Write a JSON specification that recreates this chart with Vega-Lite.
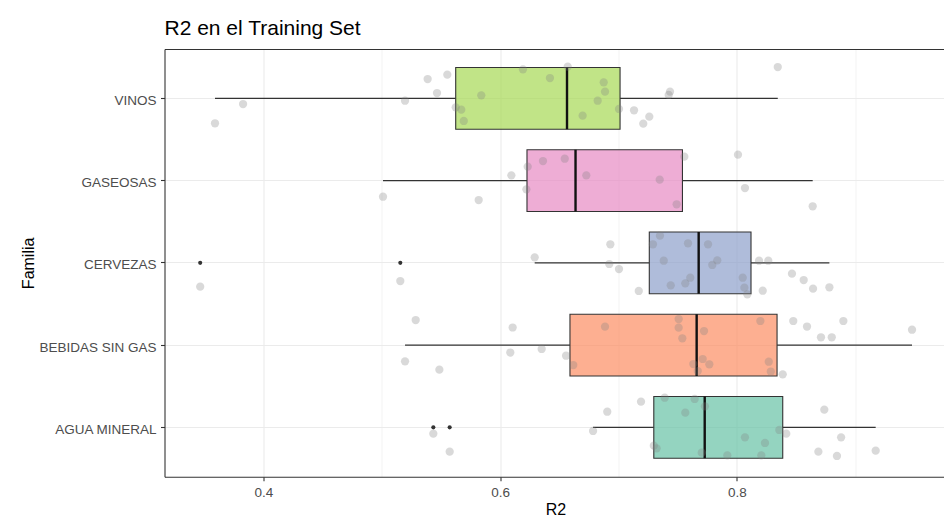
{
  "$schema": "https://vega.github.io/schema/vega-lite/v6.json",
  "width": 779.5,
  "height": 427.7,
  "autosize": {"type": "none"},
  "padding": {"left": 164.5, "top": 49, "right": 0, "bottom": 41.3},
  "background": "white",
  "title": {
    "text": "R2 en el Training Set",
    "anchor": "start",
    "frame": "group",
    "font": "Liberation Sans",
    "fontSize": 21,
    "fontWeight": "normal",
    "color": "#000000",
    "baseline": "alphabetic",
    "offset": 12,
    "dy": 19
  },
  "config": {
    "font": "Liberation Sans",
    "view": {"stroke": null},
    "axis": {
      "domainColor": "#333333",
      "domainWidth": 1.1,
      "tickColor": "#333333",
      "tickSize": 4,
      "tickWidth": 1.1,
      "labelFont": "Liberation Sans",
      "labelFontSize": 13.5,
      "labelColor": "#4d4d4d",
      "titleFont": "Liberation Sans",
      "titleFontSize": 16,
      "titleFontWeight": "normal",
      "titleColor": "#000000",
      "gridColor": "#ebebeb"
    }
  },
  "datasets": {
    "resumen": [
      {"Familia": "VINOS", "lo": 0.3592, "q1": 0.5625, "med": 0.6565, "q3": 0.7013, "hi": 0.8345},
      {"Familia": "GASEOSAS", "lo": 0.5011, "q1": 0.6227, "med": 0.6637, "q3": 0.754, "hi": 0.864},
      {"Familia": "CERVEZAS", "lo": 0.6292, "q1": 0.726, "med": 0.7677, "q3": 0.8119, "hi": 0.8781},
      {"Familia": "BEBIDAS SIN GAS", "lo": 0.5197, "q1": 0.659, "med": 0.766, "q3": 0.8339, "hi": 0.9479},
      {"Familia": "AGUA MINERAL", "lo": 0.6785, "q1": 0.7298, "med": 0.7728, "q3": 0.8387, "hi": 0.9172}
    ],
    "obs": [
      {"Familia": "VINOS", "R2": 0.3592, "jitter": 0.303},
      {"Familia": "VINOS", "R2": 0.3829, "jitter": 0.069},
      {"Familia": "VINOS", "R2": 0.5197, "jitter": 0.029},
      {"Familia": "VINOS", "R2": 0.5388, "jitter": -0.235},
      {"Familia": "VINOS", "R2": 0.5554, "jitter": -0.288},
      {"Familia": "VINOS", "R2": 0.5467, "jitter": -0.065},
      {"Familia": "VINOS", "R2": 0.5625, "jitter": 0.109},
      {"Familia": "VINOS", "R2": 0.5672, "jitter": 0.138},
      {"Familia": "VINOS", "R2": 0.5693, "jitter": 0.275},
      {"Familia": "VINOS", "R2": 0.5841, "jitter": -0.037},
      {"Familia": "VINOS", "R2": 0.6193, "jitter": -0.353},
      {"Familia": "VINOS", "R2": 0.6421, "jitter": -0.247},
      {"Familia": "VINOS", "R2": 0.6571, "jitter": -0.385},
      {"Familia": "VINOS", "R2": 0.6875, "jitter": -0.195},
      {"Familia": "VINOS", "R2": 0.6886, "jitter": -0.081},
      {"Familia": "VINOS", "R2": 0.6824, "jitter": 0.029},
      {"Familia": "VINOS", "R2": 0.6697, "jitter": 0.211},
      {"Familia": "VINOS", "R2": 0.7004, "jitter": 0.129},
      {"Familia": "VINOS", "R2": 0.7131, "jitter": 0.145},
      {"Familia": "VINOS", "R2": 0.726, "jitter": 0.223},
      {"Familia": "VINOS", "R2": 0.7209, "jitter": 0.308},
      {"Familia": "VINOS", "R2": 0.7435, "jitter": -0.081},
      {"Familia": "VINOS", "R2": 0.7424, "jitter": -0.041},
      {"Familia": "VINOS", "R2": 0.8345, "jitter": -0.381},
      {"Familia": "GASEOSAS", "R2": 0.5011, "jitter": 0.196},
      {"Familia": "GASEOSAS", "R2": 0.5819, "jitter": 0.236},
      {"Familia": "GASEOSAS", "R2": 0.6095, "jitter": -0.064},
      {"Familia": "GASEOSAS", "R2": 0.6233, "jitter": -0.169},
      {"Familia": "GASEOSAS", "R2": 0.6222, "jitter": 0.106},
      {"Familia": "GASEOSAS", "R2": 0.6362, "jitter": -0.238},
      {"Familia": "GASEOSAS", "R2": 0.6546, "jitter": -0.266},
      {"Familia": "GASEOSAS", "R2": 0.6728, "jitter": -0.064},
      {"Familia": "GASEOSAS", "R2": 0.7348, "jitter": -0.011},
      {"Familia": "GASEOSAS", "R2": 0.7491, "jitter": 0.288},
      {"Familia": "GASEOSAS", "R2": 0.7556, "jitter": -0.291},
      {"Familia": "GASEOSAS", "R2": 0.8009, "jitter": -0.315},
      {"Familia": "GASEOSAS", "R2": 0.8068, "jitter": 0.09},
      {"Familia": "GASEOSAS", "R2": 0.864, "jitter": 0.312},
      {"Familia": "CERVEZAS", "R2": 0.3467, "jitter": 0.29, "atipico": true},
      {"Familia": "CERVEZAS", "R2": 0.5157, "jitter": 0.221, "atipico": true},
      {"Familia": "CERVEZAS", "R2": 0.6292, "jitter": -0.067},
      {"Familia": "CERVEZAS", "R2": 0.6931, "jitter": -0.226},
      {"Familia": "CERVEZAS", "R2": 0.6922, "jitter": 0.014},
      {"Familia": "CERVEZAS", "R2": 0.7004, "jitter": 0.075},
      {"Familia": "CERVEZAS", "R2": 0.7171, "jitter": 0.342},
      {"Familia": "CERVEZAS", "R2": 0.735, "jitter": -0.33},
      {"Familia": "CERVEZAS", "R2": 0.7291, "jitter": -0.226},
      {"Familia": "CERVEZAS", "R2": 0.7382, "jitter": -0.026},
      {"Familia": "CERVEZAS", "R2": 0.7441, "jitter": 0.273},
      {"Familia": "CERVEZAS", "R2": 0.7587, "jitter": -0.238},
      {"Familia": "CERVEZAS", "R2": 0.7606, "jitter": 0.181},
      {"Familia": "CERVEZAS", "R2": 0.7564, "jitter": 0.249},
      {"Familia": "CERVEZAS", "R2": 0.7756, "jitter": -0.226},
      {"Familia": "CERVEZAS", "R2": 0.7834, "jitter": -0.031},
      {"Familia": "CERVEZAS", "R2": 0.7792, "jitter": 0.026},
      {"Familia": "CERVEZAS", "R2": 0.8049, "jitter": 0.181},
      {"Familia": "CERVEZAS", "R2": 0.8063, "jitter": 0.302},
      {"Familia": "CERVEZAS", "R2": 0.8088, "jitter": 0.382},
      {"Familia": "CERVEZAS", "R2": 0.8187, "jitter": -0.026},
      {"Familia": "CERVEZAS", "R2": 0.8265, "jitter": -0.026},
      {"Familia": "CERVEZAS", "R2": 0.8218, "jitter": 0.339},
      {"Familia": "CERVEZAS", "R2": 0.8465, "jitter": 0.132},
      {"Familia": "CERVEZAS", "R2": 0.8564, "jitter": 0.209},
      {"Familia": "CERVEZAS", "R2": 0.8643, "jitter": 0.314},
      {"Familia": "CERVEZAS", "R2": 0.8781, "jitter": 0.297},
      {"Familia": "BEBIDAS SIN GAS", "R2": 0.5197, "jitter": 0.197},
      {"Familia": "BEBIDAS SIN GAS", "R2": 0.5287, "jitter": -0.305},
      {"Familia": "BEBIDAS SIN GAS", "R2": 0.5487, "jitter": 0.299},
      {"Familia": "BEBIDAS SIN GAS", "R2": 0.6086, "jitter": 0.09},
      {"Familia": "BEBIDAS SIN GAS", "R2": 0.6106, "jitter": -0.214},
      {"Familia": "BEBIDAS SIN GAS", "R2": 0.6351, "jitter": 0.047},
      {"Familia": "BEBIDAS SIN GAS", "R2": 0.6557, "jitter": 0.129},
      {"Familia": "BEBIDAS SIN GAS", "R2": 0.6618, "jitter": 0.242},
      {"Familia": "BEBIDAS SIN GAS", "R2": 0.6886, "jitter": -0.224},
      {"Familia": "BEBIDAS SIN GAS", "R2": 0.7508, "jitter": -0.317},
      {"Familia": "BEBIDAS SIN GAS", "R2": 0.7508, "jitter": -0.212},
      {"Familia": "BEBIDAS SIN GAS", "R2": 0.7539, "jitter": -0.083},
      {"Familia": "BEBIDAS SIN GAS", "R2": 0.7632, "jitter": 0.23},
      {"Familia": "BEBIDAS SIN GAS", "R2": 0.7669, "jitter": 0.315},
      {"Familia": "BEBIDAS SIN GAS", "R2": 0.7711, "jitter": 0.169},
      {"Familia": "BEBIDAS SIN GAS", "R2": 0.7722, "jitter": -0.171},
      {"Familia": "BEBIDAS SIN GAS", "R2": 0.7767, "jitter": 0.233},
      {"Familia": "BEBIDAS SIN GAS", "R2": 0.8198, "jitter": -0.293},
      {"Familia": "BEBIDAS SIN GAS", "R2": 0.8269, "jitter": 0.202},
      {"Familia": "BEBIDAS SIN GAS", "R2": 0.8286, "jitter": 0.321},
      {"Familia": "BEBIDAS SIN GAS", "R2": 0.8387, "jitter": 0.355},
      {"Familia": "BEBIDAS SIN GAS", "R2": 0.8476, "jitter": -0.293},
      {"Familia": "BEBIDAS SIN GAS", "R2": 0.8592, "jitter": -0.226},
      {"Familia": "BEBIDAS SIN GAS", "R2": 0.871, "jitter": -0.095},
      {"Familia": "BEBIDAS SIN GAS", "R2": 0.8801, "jitter": -0.095},
      {"Familia": "BEBIDAS SIN GAS", "R2": 0.8899, "jitter": -0.293},
      {"Familia": "BEBIDAS SIN GAS", "R2": 0.9479, "jitter": -0.187},
      {"Familia": "AGUA MINERAL", "R2": 0.5436, "jitter": 0.077, "atipico": true},
      {"Familia": "AGUA MINERAL", "R2": 0.5574, "jitter": 0.296, "atipico": true},
      {"Familia": "AGUA MINERAL", "R2": 0.6785, "jitter": 0.044},
      {"Familia": "AGUA MINERAL", "R2": 0.6905, "jitter": -0.19},
      {"Familia": "AGUA MINERAL", "R2": 0.719, "jitter": -0.312},
      {"Familia": "AGUA MINERAL", "R2": 0.7298, "jitter": 0.223},
      {"Familia": "AGUA MINERAL", "R2": 0.7322, "jitter": 0.255},
      {"Familia": "AGUA MINERAL", "R2": 0.739, "jitter": -0.36},
      {"Familia": "AGUA MINERAL", "R2": 0.7564, "jitter": -0.178},
      {"Familia": "AGUA MINERAL", "R2": 0.7643, "jitter": -0.345},
      {"Familia": "AGUA MINERAL", "R2": 0.773, "jitter": -0.256},
      {"Familia": "AGUA MINERAL", "R2": 0.7703, "jitter": 0.308},
      {"Familia": "AGUA MINERAL", "R2": 0.7919, "jitter": 0.34},
      {"Familia": "AGUA MINERAL", "R2": 0.8068, "jitter": 0.121},
      {"Familia": "AGUA MINERAL", "R2": 0.8206, "jitter": 0.34},
      {"Familia": "AGUA MINERAL", "R2": 0.8237, "jitter": 0.19},
      {"Familia": "AGUA MINERAL", "R2": 0.8358, "jitter": 0.032},
      {"Familia": "AGUA MINERAL", "R2": 0.8417, "jitter": 0.077},
      {"Familia": "AGUA MINERAL", "R2": 0.8688, "jitter": 0.296},
      {"Familia": "AGUA MINERAL", "R2": 0.8738, "jitter": -0.215},
      {"Familia": "AGUA MINERAL", "R2": 0.888, "jitter": 0.121},
      {"Familia": "AGUA MINERAL", "R2": 0.8845, "jitter": 0.348},
      {"Familia": "AGUA MINERAL", "R2": 0.9172, "jitter": 0.284}
    ]
  },
  "encoding": {
    "y": {
      "field": "Familia",
      "type": "nominal",
      "scale": {
        "type": "band",
        "domain": ["VINOS", "GASEOSAS", "CERVEZAS", "BEBIDAS SIN GAS", "AGUA MINERAL"],
        "paddingInner": 0,
        "paddingOuter": 0.1
      },
      "axis": {
        "title": "Familia",
        "bandPosition": 0.5,
        "grid": true,
        "gridWidth": 1.1,
        "labelBaseline": "alphabetic",
        "labelOffset": 6.4,
        "labelPadding": 4.5,
        "titleAngle": 270,
        "titleBaseline": "alphabetic",
        "titleAlign": "center",
        "titleX": -131.2,
        "titleY": 213.85
      }
    }
  },
  "resolve": {"axis": {"x": "independent"}},
  "layer": [
    {
      "data": {"name": "resumen"},
      "mark": {"type": "rule", "color": "#333333", "strokeWidth": 1.1},
      "encoding": {
        "x": {
          "field": "lo",
          "type": "quantitative",
          "scale": {"domain": [0.31655, 0.9749], "nice": false, "zero": false},
          "axis": {
            "orient": "bottom",
            "title": "R2",
            "values": [0.4, 0.5, 0.6, 0.7, 0.8, 0.9],
            "labelExpr": "round(datum.value * 10) % 2 == 0 ? format(datum.value, '.1f') : ''",
            "labelFlush": false,
            "labelOverlap": false,
            "labelBaseline": "alphabetic",
            "labelPadding": 15.6,
            "tickOpacity": {"condition": {"test": "round(datum.value * 10) % 2 == 1", "value": 0}, "value": 1},
            "grid": true,
            "gridWidth": {"condition": {"test": "round(datum.value * 10) % 2 == 1", "value": 0.6}, "value": 1.1},
            "titleBaseline": "alphabetic",
            "titleX": 391,
            "titleY": 37.5
          }
        },
        "x2": {"field": "q1"}
      }
    },
    {
      "data": {"name": "resumen"},
      "mark": {"type": "rule", "color": "#333333", "strokeWidth": 1.1},
      "encoding": {
        "x": {
          "field": "q3",
          "type": "quantitative",
          "scale": {"domain": [0.31655, 0.9749], "nice": false, "zero": false},
          "axis": {"orient": "top", "title": null, "labels": false, "ticks": false, "grid": false, "domain": true}
        },
        "x2": {"field": "hi"}
      }
    },
    {
      "data": {"name": "resumen"},
      "mark": {
        "type": "bar",
        "height": 61.7,
        "fillOpacity": 0.7,
        "stroke": "#333333",
        "strokeWidth": 1.1
      },
      "encoding": {
        "x": {"field": "q1", "type": "quantitative", "axis": null},
        "x2": {"field": "q3"},
        "fill": {
          "field": "Familia",
          "type": "nominal",
          "scale": {
            "domain": ["AGUA MINERAL", "BEBIDAS SIN GAS", "CERVEZAS", "GASEOSAS", "VINOS"],
            "range": ["#66c2a5", "#fc8d62", "#8da0cb", "#e78ac3", "#a6d854"]
          },
          "legend": null
        }
      }
    },
    {
      "data": {"name": "resumen"},
      "mark": {"type": "tick", "orient": "vertical", "size": 61.7, "thickness": 2.4, "color": "#111111", "opacity": 1},
      "encoding": {
        "x": {"field": "med", "type": "quantitative", "axis": null}
      }
    },
    {
      "data": {"name": "obs"},
      "transform": [{"filter": "datum.atipico === true"}],
      "mark": {"type": "circle", "size": 17, "color": "#333333", "opacity": 1},
      "encoding": {
        "x": {"field": "R2", "type": "quantitative", "axis": null}
      }
    },
    {
      "data": {"name": "obs"},
      "mark": {"type": "circle", "size": 68, "color": "#808080", "opacity": 0.3},
      "encoding": {
        "x": {"field": "R2", "type": "quantitative", "axis": null},
        "yOffset": {
          "field": "jitter",
          "type": "quantitative",
          "scale": {"domain": [-0.5, 0.5], "range": [0, 82.25]}
        }
      }
    }
  ]
}
